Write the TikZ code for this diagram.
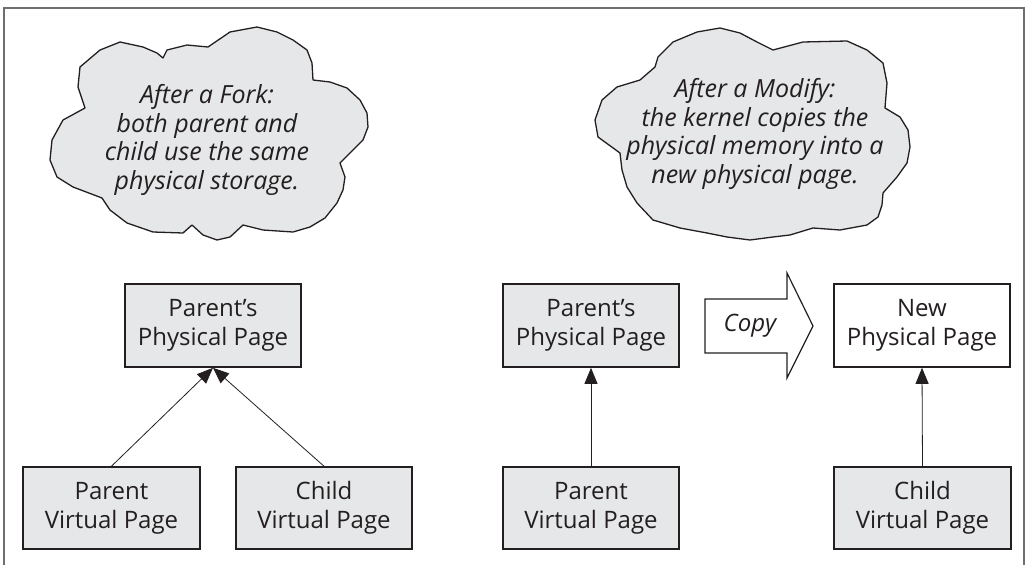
\documentclass[tikz,border=0pt]{standalone}
\usepackage{fontspec}
\setmainfont{Open Sans}
\usetikzlibrary{arrows.meta}
\definecolor{boxfill}{HTML}{E6E7E8}
\definecolor{ink}{HTML}{231F20}
\definecolor{framecol}{HTML}{6D6E71}
\tikzset{
  pagebox/.style={draw=ink, line width=1.6pt, fill=boxfill, minimum width=176pt, minimum height=83pt,
    align=center, font=\fontsize{24}{29}\selectfont, text=ink, inner sep=0pt},
  whitebox/.style={pagebox, fill=white},
  cloudshape/.style={draw=ink, line width=1.3pt, fill=boxfill, line join=round},
  cloudtext/.style={align=center, font=\fontsize{25}{28.7}\selectfont\itshape, text=ink, inner sep=0pt},
  conn/.style={draw=ink, line width=0.8pt, -{Triangle[length=16pt,width=13pt]}},
  copyarrow/.style={draw=ink, line width=1.2pt, fill=white, line join=miter},
}
\begin{document}
\begin{tikzpicture}[x=1pt,y=-1pt]
\useasboundingbox (0,0) rectangle (1029,565);
% frame
\draw[framecol, line width=1.8pt] (4,565) -- (4,8) -- (1024,8) -- (1024,565);

% left cloud
\draw[cloudshape] (85,108) -- (78,87) -- (80,67) -- (100,50) -- (120,42) -- (143,47) -- (157,53) -- (163,58)
  -- (167,50) -- (187,45) -- (208,47)
  -- (230,32) -- (257,27) -- (277,32) -- (293,40) -- (307,50) -- (312,63) -- (313,80)
  -- (330,82) -- (347,88) -- (360,100) -- (367,113) -- (368,127) -- (363,140) -- (340,163)
  -- (345,177) -- (343,190) -- (337,203) -- (325,218) -- (310,227) -- (293,232) -- (263,230) -- (243,225)
  -- (230,237) -- (217,240) -- (203,235) -- (192,225)
  -- (183,233) -- (153,232) -- (127,223) -- (110,210) -- (102,198)
  -- (73,187) -- (57,177) -- (50,160) -- (52,140) -- (63,120) -- cycle;
\node[cloudtext] (t1) at (207,140) {After a Fork:\\both parent and\\child use the same\\physical storage.};

% right cloud
\draw[cloudshape] (640,80) -- (655,67) -- (658,57) -- (673,42) -- (697,32) -- (720,28) -- (740,33) -- (757,42) -- (773,50)
  -- (803,42) -- (847,41) -- (867,50) -- (883,63) -- (887,83) -- (885,108)
  -- (900,117) -- (908,130) -- (910,147) -- (907,163) -- (897,177) -- (883,193)
  -- (882,205) -- (878,217) -- (867,225) -- (840,230) -- (813,228) -- (790,235) -- (773,237) -- (750,240)
  -- (727,237) -- (707,233) -- (680,228) -- (653,220) -- (637,203) -- (627,187) -- (622,170) -- (620,153)
  -- (598,137) -- (595,120) -- (602,100) -- (617,87) -- cycle;
\node[cloudtext] (t2) at (755,134) {After a Modify:\\the kernel copies the\\physical memory into a\\new physical page.};

% left group
\node[pagebox] (lpp) at (213,325.5) {Parent’s\\Physical Page};
\node[pagebox, minimum width=177pt, minimum height=82pt] (lpv) at (111.5,508) {Parent\\Virtual Page};
\node[pagebox, minimum height=82pt] (lcv) at (324,508) {Child\\Virtual Page};
\draw[conn] (lpv.north) -- (lpp.south);
\draw[conn] (lcv.north) -- (lpp.south);

% right group
\node[pagebox] (rpp) at (591,325.5) {Parent’s\\Physical Page};
\node[pagebox, minimum height=82pt] (rpv) at (591,508) {Parent\\Virtual Page};
\node[whitebox] (npp) at (922,325.5) {New\\Physical Page};
\node[pagebox, minimum width=177pt, minimum height=82pt] (rcv) at (922.5,508) {Child\\Virtual Page};
\draw[conn] (rpv.north) -- (rpp.south);
\draw[conn] (rcv.north) -- (npp.south);

% copy arrow
\draw[copyarrow] (705,299) -- (787,299) -- (787,273) -- (813,326) -- (787,378) -- (787,353) -- (705,353) -- cycle;
\node[font=\fontsize{24}{25}\selectfont\itshape, text=ink] (copy) at (750,326) {Copy};
\end{tikzpicture}
\end{document}
